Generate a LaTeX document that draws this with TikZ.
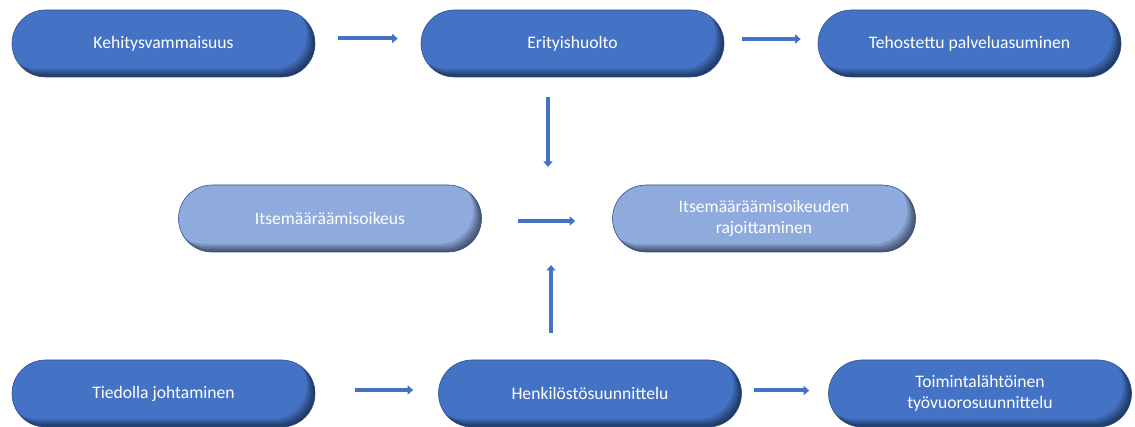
\documentclass[tikz,border=0pt]{standalone}
\usepackage{fontspec}
\setmainfont{Carlito}
\usetikzlibrary{shapes.misc,arrows.meta}
\definecolor{boxblue}{HTML}{4472C4}
\definecolor{boxlight}{HTML}{8FAADC}
\definecolor{boxedge}{HTML}{2F528F}
\definecolor{flowblue}{HTML}{4472C4}
\tikzset{
  % soft darkening along the lower and right rim of each pill
  innershade/.style={path picture={
    \foreach \s in {1.5,3,4.5,6,8}{
      \fill[black, opacity=0.12, even odd rule]
        ([shift={(-40pt,-40pt)}]path picture bounding box.south west) rectangle
        ([shift={(40pt,40pt)}]path picture bounding box.north east)
        [rounded corners=33.4pt]
        ([shift={({-\s*1pt},{\s*1pt})}]path picture bounding box.south west) rectangle
        ([shift={({-\s*1pt},{\s*1pt})}]path picture bounding box.north east);
    }
  }},
  stage/.style={rounded rectangle, minimum width=303pt, minimum height=67pt,
    inner sep=0pt, fill=boxblue, draw=boxedge, line width=0.6pt, text=white,
    font=\fontsize{17.6}{21}\selectfont, align=center, innershade},
  lightstage/.style={stage, fill=boxlight},
  flow/.style={draw=flowblue, line width=4pt,
    -{Triangle[width=9pt,length=5.5pt]}}
}
\begin{document}
\begin{tikzpicture}[x=1pt,y=-1pt]
\useasboundingbox (0,0) rectangle (1135,427);

% top row
\node[stage] (kv) at (163.5,43.5) {Kehitysvammaisuus};
\node[stage] (eh) at (572.5,43.5) {Erityishuolto};
\node[stage] (tp) at (969.5,43.5) {Tehostettu palveluasuminen};

% middle row
\node[lightstage] (io) at (330,218.5) {Itsemääräämisoikeus};
\node[lightstage] (ir) at (764,218.5) {Itsemääräämisoikeuden\\rajoittaminen};

% bottom row
\node[stage] (tj) at (163.5,393.5) {Tiedolla johtaminen};
\node[stage] (hs) at (590,393.5) {Henkilöstösuunnittelu};
\node[stage] (tv) at (980,393.5) {Toimintalähtöinen\\työvuorosuunnittelu};

% free ends of the vertical arrows
\coordinate (downend) at (548,167);
\coordinate (upend) at (551,265);

% connectors
\draw[flow, shorten <=23pt, shorten >=23pt]
  ([yshift=5pt]kv.east) -- ([yshift=5pt]eh.west);
\draw[flow, shorten <=18pt, shorten >=17pt]
  ([yshift=4.5pt]eh.east) -- ([yshift=4.5pt]tp.west);
\draw[flow, shorten <=20pt] (eh.south -| downend) -- (downend);
\draw[flow, shorten <=36pt, shorten >=37pt]
  ([yshift=-2.5pt]io.east) -- ([yshift=-2.5pt]ir.west);
\draw[flow, shorten <=27pt] (hs.north -| upend) -- (upend);
\draw[flow, shorten <=40pt, shorten >=25pt]
  ([yshift=3.5pt]tj.east) -- ([yshift=3.5pt]hs.west);
\draw[flow, shorten <=12pt, shorten >=19pt]
  ([yshift=3pt]hs.east) -- ([yshift=3pt]tv.west);
\end{tikzpicture}
\end{document}
